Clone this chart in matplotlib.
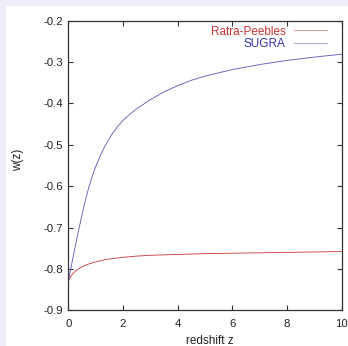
import numpy as np
import matplotlib
matplotlib.use("Agg")
import matplotlib.pyplot as plt
from matplotlib.patches import Rectangle

plt.rcParams["font.family"] = ["Liberation Sans", "DejaVu Sans"]

# values
z_sugra = [0, 0.1, 0.2, 0.3, 0.4, 0.5, 0.6, 0.7, 0.8, 0.9, 1.0, 1.2, 1.4, 1.6,
           1.8, 2.0, 2.25, 2.5, 3.0, 3.5, 4.0, 4.5, 5.0, 6.0, 7.0, 8.0, 9.0, 10.0]
w_sugra = [-0.830, -0.796, -0.763, -0.731, -0.700, -0.669, -0.641, -0.615, -0.592,
           -0.571, -0.553, -0.522, -0.496, -0.474, -0.456, -0.441, -0.426, -0.413,
           -0.391, -0.372, -0.357, -0.344, -0.334, -0.318, -0.306, -0.296, -0.288,
           -0.281]

z_rp = [0, 0.05, 0.1, 0.2, 0.3, 0.4, 0.5, 0.6, 0.75, 1.0, 1.25, 1.5, 2.0, 2.5,
        3.0, 4.0, 5.0, 6.0, 7.0, 8.0, 9.0, 10.0]
w_rp = [-0.830, -0.823, -0.817, -0.809, -0.803, -0.799, -0.795, -0.792, -0.788,
        -0.783, -0.779, -0.776, -0.772, -0.769, -0.767, -0.765, -0.763, -0.762,
        -0.761, -0.760, -0.759, -0.758]

x_ticks = [0, 2, 4, 6, 8, 10]
y_ticks = [-0.9, -0.8, -0.7, -0.6, -0.5, -0.4, -0.3, -0.2]

fig = plt.figure(figsize=(3.48, 3.46), dpi=100, facecolor="#eeeefa")
fig.patches.append(Rectangle((6 / 348, 0), 1, 340 / 346, transform=fig.transFigure,
                             facecolor="white", edgecolor="none", zorder=-10))

ax = fig.add_axes([68.3 / 348, 1 - 310.3 / 346, 273.4 / 348, 289.6 / 346])
ax.plot(z_rp, w_rp, color="#cc4444", lw=0.65, label="Ratra-Peebles")
ax.plot(z_sugra, w_sugra, color="#6262bb", lw=0.65, label="SUGRA")

ax.set_xlim(0, 10)
ax.set_ylim(-0.9, -0.2)
ax.set_xticks(x_ticks)
ax.set_xticklabels([str(t) for t in x_ticks])
ax.set_yticks(y_ticks)
ax.set_yticklabels([f"{t:.1f}" for t in y_ticks])
ax.tick_params(direction="in", length=3.3, width=0.8, top=True, right=True,
               labelsize=8.2, colors="#333333", labelcolor="#222222")
ax.tick_params(axis="y", pad=4)
ax.tick_params(axis="x", pad=6)
for s in ax.spines.values():
    s.set_color("#333333")
    s.set_linewidth(0.9)

ax.set_xlabel("redshift z", fontsize=8.5, color="#222222", va="center")
ax.xaxis.set_label_coords(0.518, -0.106)
ax.set_ylabel("w(z)", fontsize=8.5, color="#222222", va="center")
ax.yaxis.set_label_coords(-0.184, 0.52)

leg = ax.legend(loc="upper right", bbox_to_anchor=(0.946, 0.983), frameon=False,
                markerfirst=False, fontsize=8.5, borderpad=0, borderaxespad=0,
                labelspacing=0.05, handlelength=2.8, handletextpad=0.7,
                labelcolor=["#cc3333", "#3333aa"])
for h in leg.legend_handles:
    h.set_alpha(0.6)

fig.savefig("out.png", dpi=100, facecolor=fig.get_facecolor())
